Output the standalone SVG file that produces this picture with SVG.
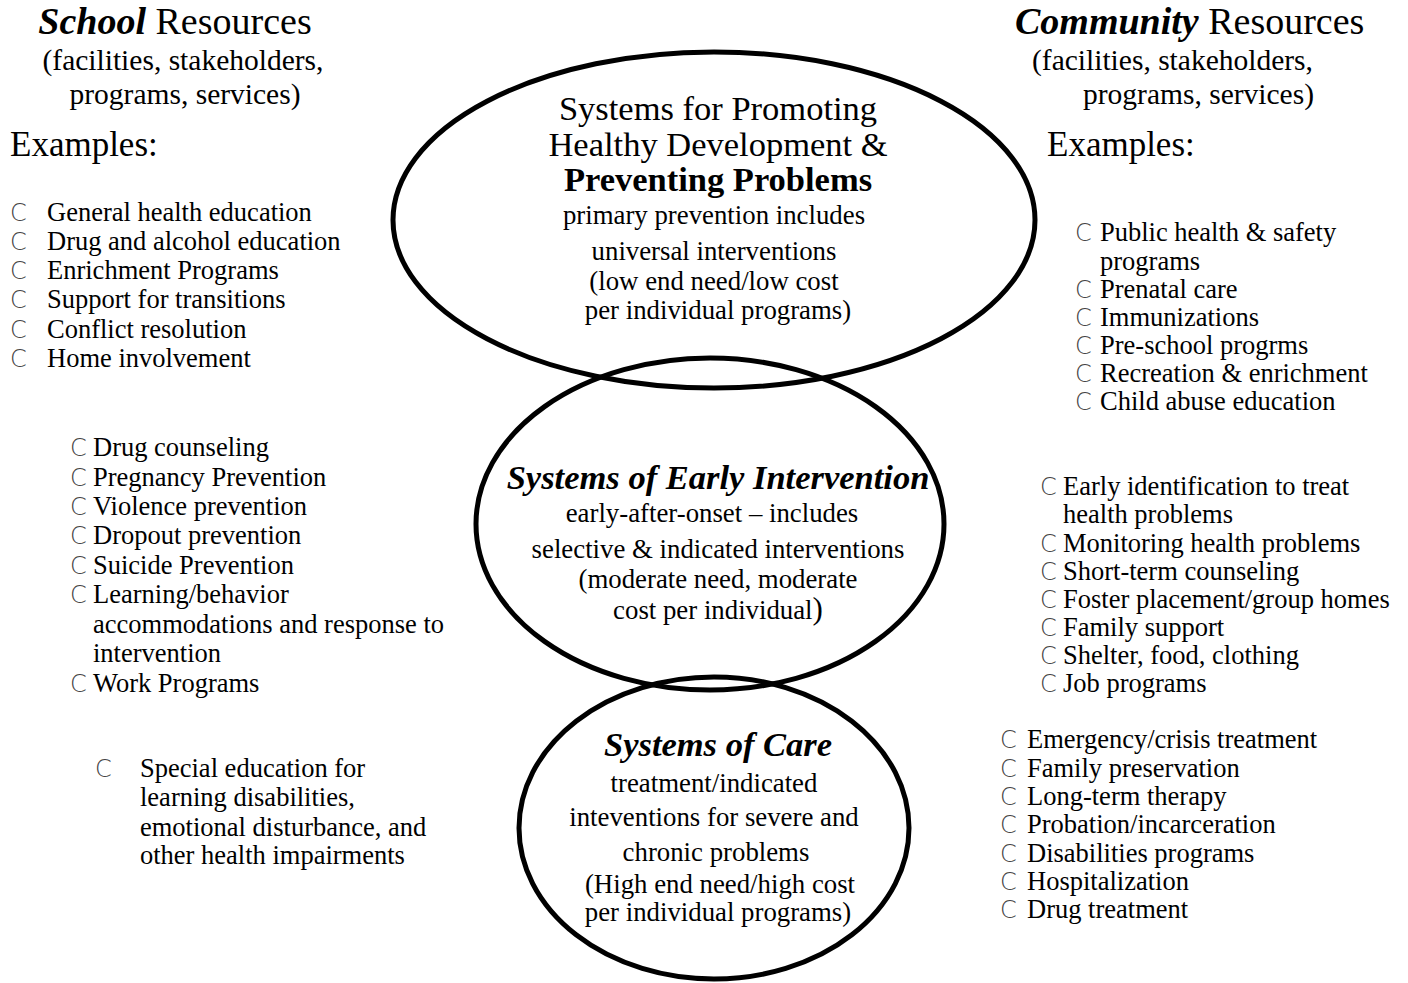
<svg xmlns="http://www.w3.org/2000/svg" width="1408" height="983" viewBox="0 0 1408 983">
<style>
text{font-family:"Liberation Serif","Times New Roman",serif;fill:#000}
.h{font-size:38px}
.p{font-size:29.5px}
.s{font-size:26.8px}
.e{font-size:35px}
.li{font-size:26.5px}
.c{text-anchor:middle}
.b{font-family:"DejaVu Sans","Liberation Sans",sans-serif;font-weight:200;font-size:24px;fill:#444}
.ct{font-size:34.5px}
.ell{fill:none;stroke:#000;stroke-width:5}
</style>
<rect width="1408" height="983" fill="#fff"/>
<g id="connectors"></g>
<g id="school-header">
<text class="h c" x="175" y="34"><tspan font-weight="bold" font-style="italic">School</tspan> Resources</text>
<text class="p c" x="183" y="70">(facilities, stakeholders,</text>
<text class="p c" x="185" y="104">programs, services)</text>
<text class="e" x="10" y="156">Examples:</text>
</g>
<g id="school-list-1">
<text class="b" x="10" y="221">C</text><text class="li" x="47" y="221">General health education</text>
<text class="b" x="10" y="250">C</text><text class="li" x="47" y="250">Drug and alcohol education</text>
<text class="b" x="10" y="279">C</text><text class="li" x="47" y="279">Enrichment Programs</text>
<text class="b" x="10" y="308">C</text><text class="li" x="47" y="308">Support for transitions</text>
<text class="b" x="10" y="338">C</text><text class="li" x="47" y="338">Conflict resolution</text>
<text class="b" x="10" y="367">C</text><text class="li" x="47" y="367">Home involvement</text>
</g>
<g id="school-list-2">
<text class="b" x="70" y="456">C</text><text class="li" x="93" y="456">Drug counseling</text>
<text class="b" x="70" y="486">C</text><text class="li" x="93" y="486">Pregnancy Prevention</text>
<text class="b" x="70" y="515">C</text><text class="li" x="93" y="515">Violence prevention</text>
<text class="b" x="70" y="544">C</text><text class="li" x="93" y="544">Dropout prevention</text>
<text class="b" x="70" y="574">C</text><text class="li" x="93" y="574">Suicide Prevention</text>
<text class="b" x="70" y="603">C</text><text class="li" x="93" y="603">Learning/behavior</text>
<text class="li" x="93" y="633">accommodations and response to</text>
<text class="li" x="93" y="662">intervention</text>
<text class="b" x="70" y="692">C</text><text class="li" x="93" y="692">Work Programs</text>
</g>
<g id="school-list-3">
<text class="b" x="95" y="777">C</text><text class="li" x="140" y="777">Special education for</text>
<text class="li" x="140" y="806">learning disabilities,</text>
<text class="li" x="140" y="836">emotional disturbance, and</text>
<text class="li" x="140" y="864">other health impairments</text>
</g>
<g id="community-header">
<text class="h" x="1015" y="34"><tspan font-weight="bold" font-style="italic">Community</tspan> Resources</text>
<text class="p" x="1032" y="70">(facilities, stakeholders,</text>
<text class="p" x="1083" y="104">programs, services)</text>
<text class="e" x="1047" y="156">Examples:</text>
</g>
<g id="community-list-1">
<text class="b" x="1075" y="241">C</text><text class="li" x="1100" y="241">Public health &amp; safety</text>
<text class="li" x="1100" y="270">programs</text>
<text class="b" x="1075" y="298">C</text><text class="li" x="1100" y="298">Prenatal care</text>
<text class="b" x="1075" y="326">C</text><text class="li" x="1100" y="326">Immunizations</text>
<text class="b" x="1075" y="354">C</text><text class="li" x="1100" y="354">Pre-school progrms</text>
<text class="b" x="1075" y="382">C</text><text class="li" x="1100" y="382">Recreation &amp; enrichment</text>
<text class="b" x="1075" y="410">C</text><text class="li" x="1100" y="410">Child abuse education</text>
</g>
<g id="community-list-2">
<text class="b" x="1040" y="495">C</text><text class="li" x="1063" y="495">Early identification to treat</text>
<text class="li" x="1063" y="523">health problems</text>
<text class="b" x="1040" y="552">C</text><text class="li" x="1063" y="552">Monitoring health problems</text>
<text class="b" x="1040" y="580">C</text><text class="li" x="1063" y="580">Short-term counseling</text>
<text class="b" x="1040" y="608">C</text><text class="li" x="1063" y="608">Foster placement/group homes</text>
<text class="b" x="1040" y="636">C</text><text class="li" x="1063" y="636">Family support</text>
<text class="b" x="1040" y="664">C</text><text class="li" x="1063" y="664">Shelter, food, clothing</text>
<text class="b" x="1040" y="692">C</text><text class="li" x="1063" y="692">Job programs</text>
</g>
<g id="community-list-3">
<text class="b" x="1000" y="748">C</text><text class="li" x="1027" y="748">Emergency/crisis treatment</text>
<text class="b" x="1000" y="777">C</text><text class="li" x="1027" y="777">Family preservation</text>
<text class="b" x="1000" y="805">C</text><text class="li" x="1027" y="805">Long-term therapy</text>
<text class="b" x="1000" y="833">C</text><text class="li" x="1027" y="833">Probation/incarceration</text>
<text class="b" x="1000" y="862">C</text><text class="li" x="1027" y="862">Disabilities programs</text>
<text class="b" x="1000" y="890">C</text><text class="li" x="1027" y="890">Hospitalization</text>
<text class="b" x="1000" y="918">C</text><text class="li" x="1027" y="918">Drug treatment</text>
</g>
<g id="node-prevention">
<ellipse class="ell" cx="714" cy="220" rx="321" ry="168"/>
<text class="ct c" x="718" y="120">Systems for Promoting</text>
<text class="ct c" x="718" y="156">Healthy Development &amp;</text>
<text class="ct c" x="718" y="191" font-weight="bold">Preventing Problems</text>
<text class="s c" x="714" y="224">primary prevention includes</text>
<text class="s c" x="714" y="260">universal interventions</text>
<text class="s c" x="714" y="290">(low end need/low cost</text>
<text class="s c" x="718" y="319">per individual programs)</text>
</g>
<g id="node-early">
<ellipse class="ell" cx="710" cy="524" rx="234" ry="166"/>
<text class="ct c" x="718" y="489" font-weight="bold" font-style="italic">Systems of Early Intervention</text>
<text class="s c" x="712" y="522">early-after-onset – includes</text>
<text class="s c" x="718" y="558">selective &amp; indicated interventions</text>
<text class="s c" x="718" y="588">(moderate need, moderate</text>
<text class="s c" x="718" y="619">cost per individual<tspan font-size="31px">)</tspan></text>
</g>
<g id="node-care">
<ellipse class="ell" cx="714" cy="828" rx="195" ry="151"/>
<text class="ct c" x="718" y="756" font-weight="bold" font-style="italic">Systems of Care</text>
<text class="s c" x="714" y="792">treatment/indicated</text>
<text class="s c" x="714" y="826">inteventions for severe and</text>
<text class="s c" x="716" y="861">chronic problems</text>
<text class="s c" x="720" y="893">(High end need/high cost</text>
<text class="s c" x="718" y="921">per individual programs)</text>
</g>
</svg>
